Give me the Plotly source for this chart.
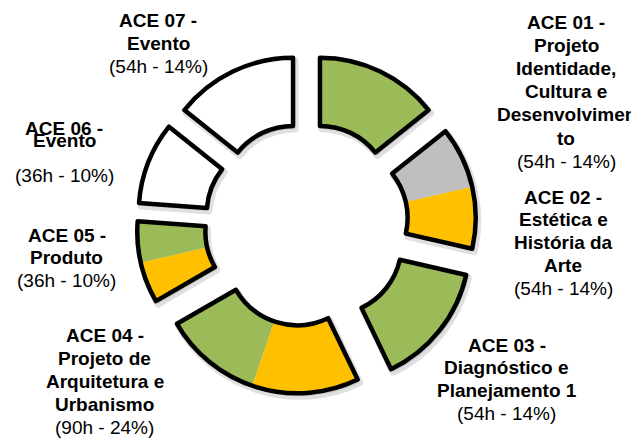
import numpy as np
import plotly.graph_objects as go

# ---- data ----
groups = ["ACE 01", "ACE 02", "ACE 03", "ACE 04", "ACE 05", "ACE 06", "ACE 07"]
hours = [54, 54, 54, 90, 36, 36, 54]
sub_hours = [[54], [27, 27], [54], [47, 43], [18, 18], [36], [54]]
sub_colors = [["#9BBB59"], ["#BFBFBF", "#FFC000"], ["#9BBB59"], ["#FFC000", "#9BBB59"],
              ["#FFC000", "#9BBB59"], ["#FFFFFF"], ["#FFFFFF"]]
label_lines = [
    ["ACE 01 -", "Projeto", "Identidade,", "Cultura e", "Desenvolvimen", "to"],
    ["ACE 02 -", "Estética e", "História da", "Arte"],
    ["ACE 03 -", "Diagnóstico e", "Planejamento 1"],
    ["ACE 04 -", "Projeto de", "Arquitetura e", "Urbanismo"],
    ["ACE 05 -", "Produto"],
    ["ACE 06 -", "Evento"],
    ["ACE 07 -", "Evento"],
]
pct_labels = ["(54h - 14%)", "(54h - 14%)", "(54h - 14%)", "(90h - 24%)",
              "(36h - 10%)", "(36h - 10%)", "(54h - 14%)"]

# ---- layout constants (reference pixel coords; page body margin compensated) ----
OFF = 8
W, H = 639 - OFF, 438 - OFF
CX, CY = 306.5, 224.7     # donut centre (px, reference coords)
R = 139.0                 # outer radius (px)
HOLE = 0.51
PULL = 31.0               # explode distance (px)
TRANSP = "rgba(0,0,0,0)"

total = sum(hours)
cum = np.concatenate([[0], np.cumsum(hours)])


def fx(px):
    return (px - OFF) / W


def fy(py):
    return 1 - (py - OFF) / H


def domain_for(px, py):
    return dict(x=[fx(px - R), fx(px + R)], y=[fy(py + R), fy(py - R)])


fig = go.Figure()

for i, g in enumerate(groups):
    before = cum[i]
    after = total - cum[i + 1]
    mid = np.deg2rad((cum[i] + hours[i] / 2) / total * 360)
    px = CX + PULL * np.sin(mid)
    py = CY - PULL * np.cos(mid)

    # shadow
    fig.add_trace(go.Pie(
        values=[before, hours[i], after], sort=False, direction="clockwise", rotation=0,
        hole=HOLE, textinfo="none", hoverinfo="skip", showlegend=False,
        marker=dict(colors=[TRANSP, "rgba(0,0,0,0.10)", TRANSP],
                    line=dict(color=[TRANSP, "rgba(0,0,0,0.12)", TRANSP], width=[0, 7, 0])),
        domain=domain_for(px + 2, py + 3)))
    # fills
    fig.add_trace(go.Pie(
        values=[before] + sub_hours[i] + [after], sort=False, direction="clockwise", rotation=0,
        hole=HOLE, textinfo="none", hoverinfo="skip", showlegend=False,
        marker=dict(colors=[TRANSP] + sub_colors[i] + [TRANSP], line=dict(width=0)),
        domain=domain_for(px, py)))
    # outline
    fig.add_trace(go.Pie(
        values=[before, hours[i], after], sort=False, direction="clockwise", rotation=0,
        hole=HOLE, textinfo="none", hoverinfo="skip", showlegend=False, name=g,
        marker=dict(colors=[TRANSP, TRANSP, TRANSP],
                    line=dict(color=[TRANSP, "#000000", TRANSP], width=[0, 4.5, 0])),
        domain=domain_for(px, py)))

# ---- labels (one annotation per line to match the original line spacing) ----
FONT = dict(family="Liberation Sans, Arial, sans-serif", size=19, color="#000000")
# (centre x, y of first line, line step) in reference pixels
label_pos = [(566, 23, 23.0), (563, 197, 22.75), (507, 345, 22.7), (105, 335, 23.0),
             (67, 235, 22.5), None, (158, 20, 23.0)]

for i in range(len(groups)):
    if label_pos[i] is None:
        continue
    x, y0, step = label_pos[i]
    lines = ["<b>%s</b>" % s for s in label_lines[i]] + [pct_labels[i]]
    for k, txt in enumerate(lines):
        fig.add_annotation(x=fx(x), y=fy(y0 + k * step), xref="paper", yref="paper", text=txt,
                           showarrow=False, xanchor="center", yanchor="middle", font=FONT)

# ACE 06 label (overlapping lines as in the original)
for txt, y in [("<b>%s</b>" % label_lines[5][0], 128), ("<b>%s</b>" % label_lines[5][1], 140),
               (pct_labels[5], 175)]:
    fig.add_annotation(x=fx(64), y=fy(y), xref="paper", yref="paper", text=txt,
                       showarrow=False, xanchor="center", yanchor="middle", font=FONT)

fig.update_layout(width=W, height=H, margin=dict(l=0, r=0, t=0, b=0),
                  paper_bgcolor="#FFFFFF", plot_bgcolor="#FFFFFF", showlegend=False)

fig.write_html("out.html")
